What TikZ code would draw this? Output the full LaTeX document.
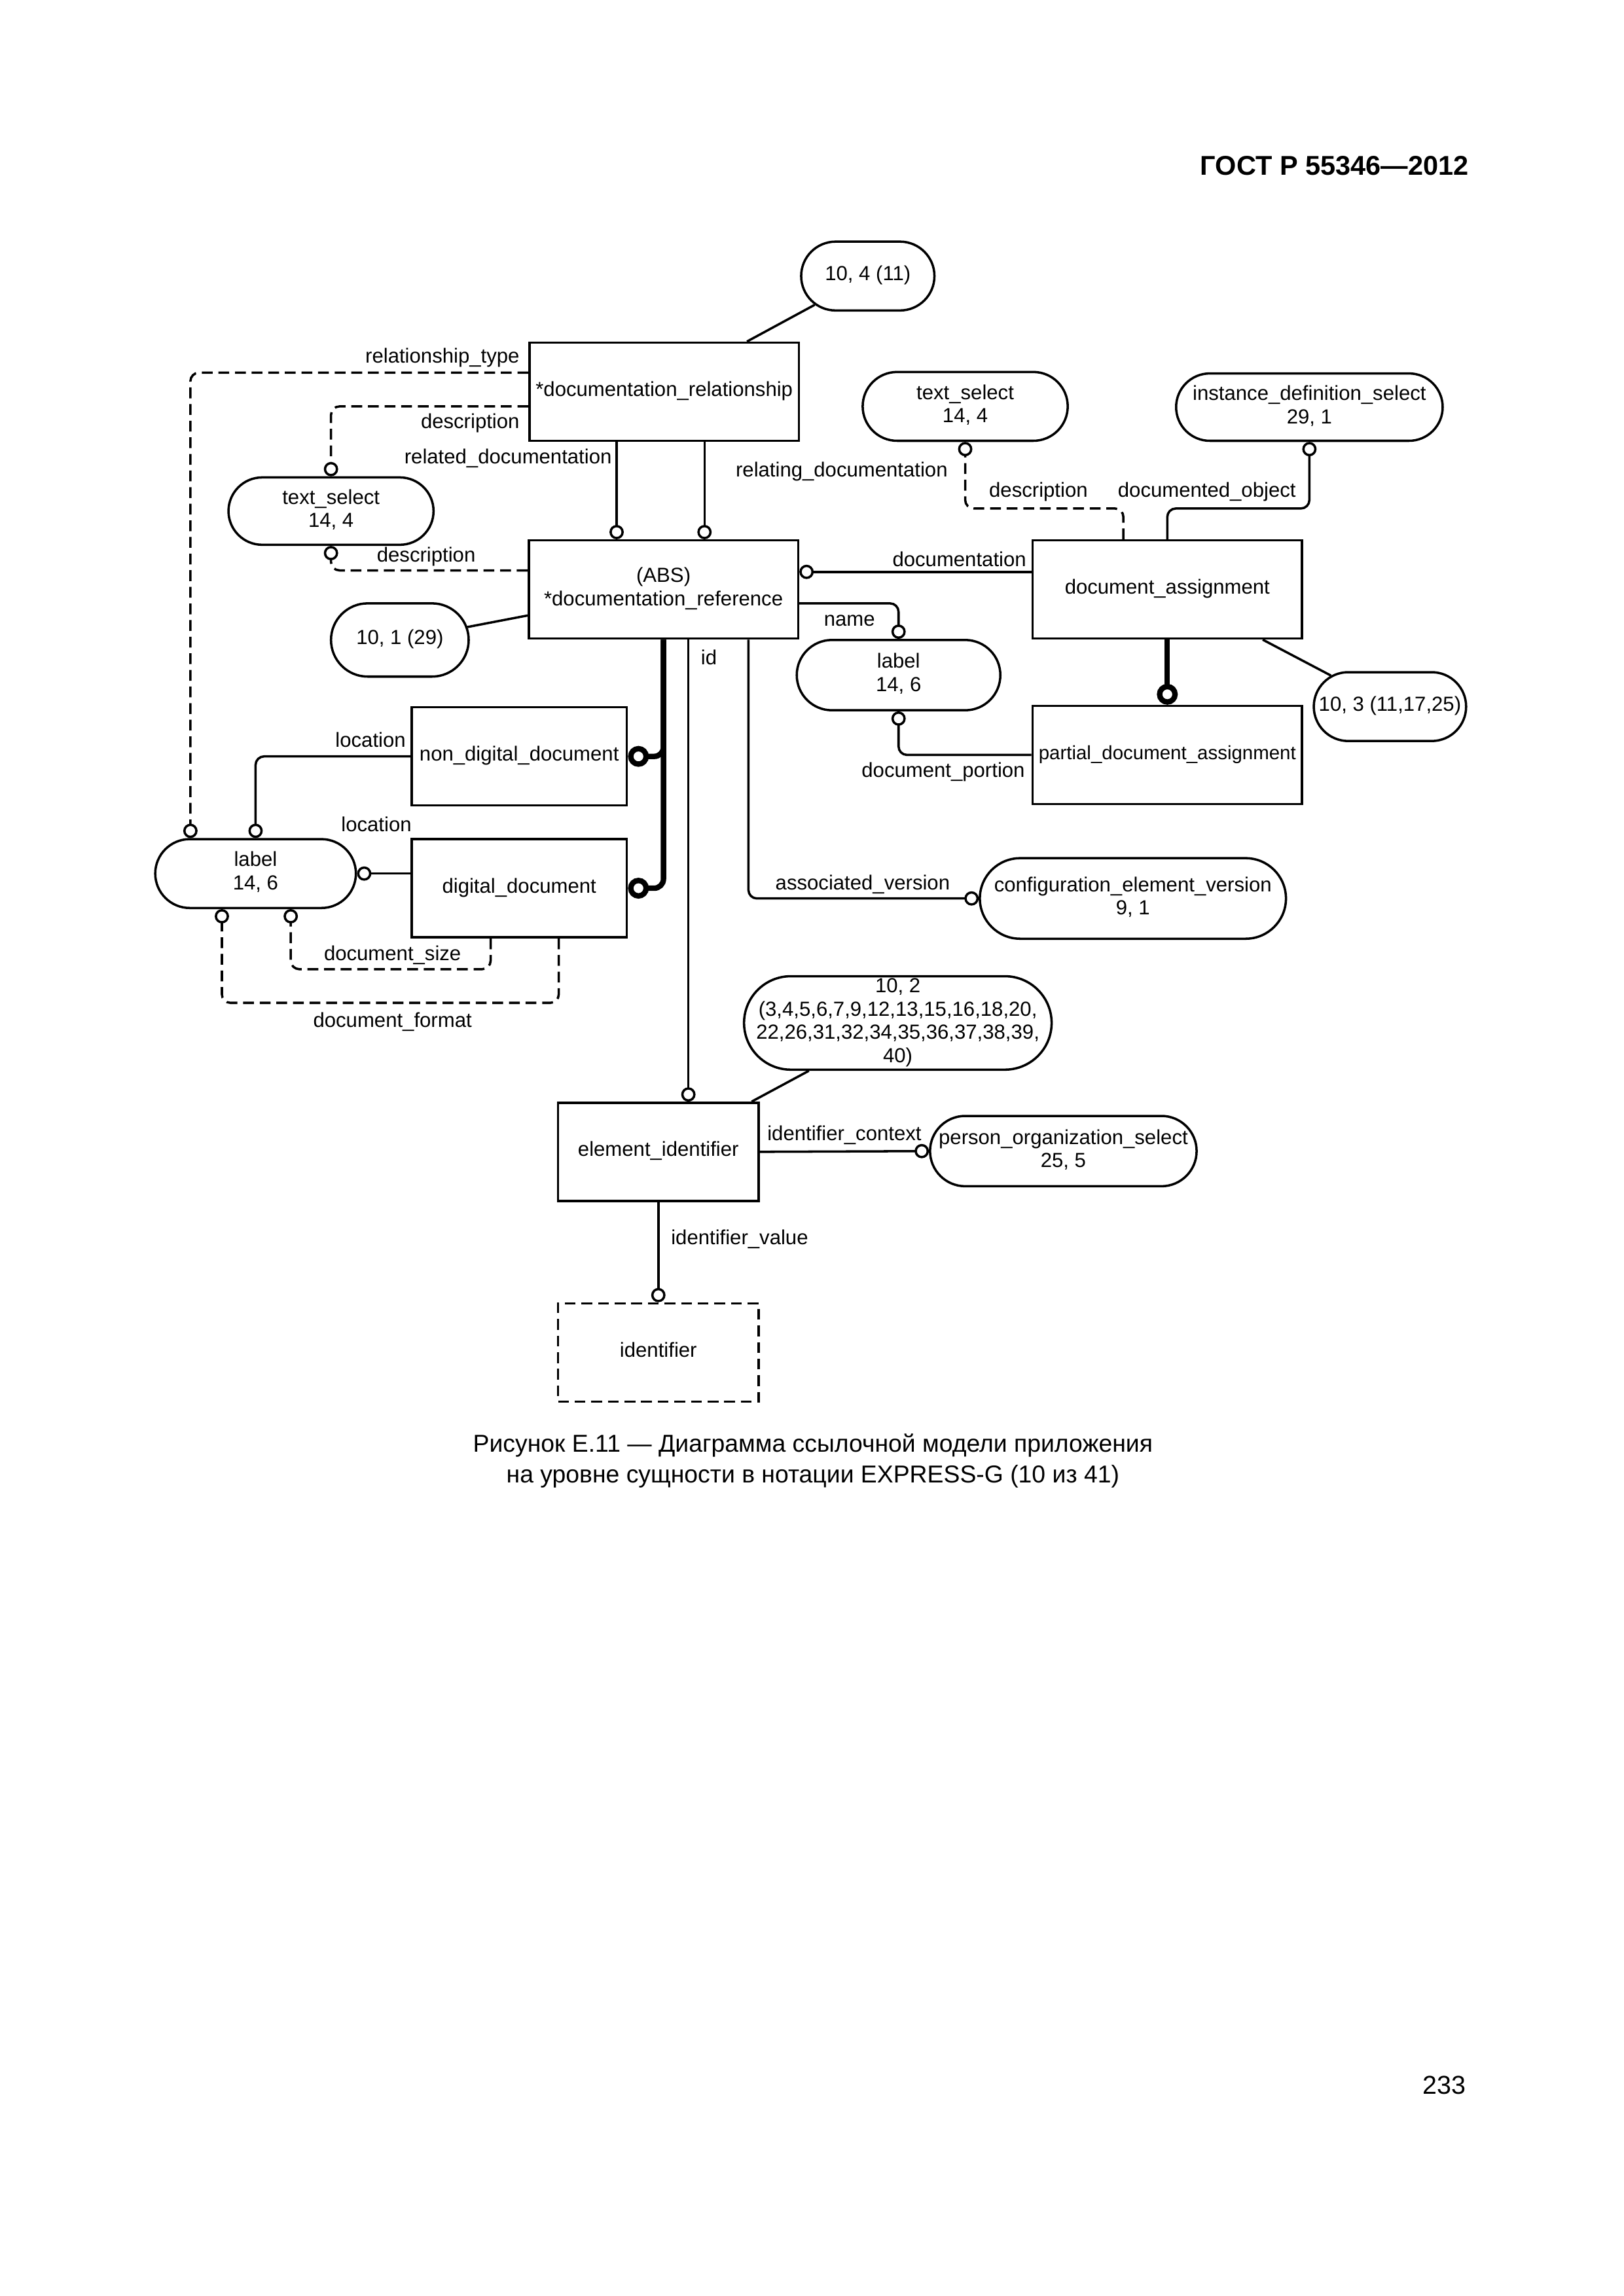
\documentclass[tikz,border=0pt]{standalone}
\usepackage{fontspec}
\setmainfont{Liberation Sans}
\usetikzlibrary{shapes.misc,arrows.meta}
\def\U{0.018944cm}
\newcommand\lbfont{\fontsize{7.5}{8.6}\selectfont}
\newcommand\zb[1]{\makebox[0pt]{\begin{tabular}{@{}c@{}}#1\end{tabular}}}
\tikzset{
  ent/.style={draw, rectangle, line width=0.85pt, inner sep=0pt, font=\lbfont},
  stad/.style={draw, rounded rectangle, line width=0.85pt, inner sep=0pt, font=\lbfont},
  conn/.style={line width=0.85pt, rounded corners=1.1mm},
  dsh/.style={dash pattern=on 1.4mm off 0.75mm},
  circ/.style={-{Circle[open,length=1.85mm,width=1.85mm]}},
  subt/.style={line width=2pt, rounded corners=1.2mm, -{Circle[open,length=2.7mm,width=2.7mm]}},
  lbl/.style={inner sep=0pt, font=\lbfont},
}
\begin{document}
\begin{tikzpicture}[x=0.018944cm, y=-0.018944cm]
\useasboundingbox (0,0) rectangle (1108.5,1567.8);

% header, page number, caption
\node[inner sep=0pt, anchor=east, font=\fontsize{10}{12}\selectfont\bfseries] (hdr) at (1003,113) {ГОСТ Р 55346—2012};
\node[inner sep=0pt, anchor=east, font=\fontsize{9.5}{11}\selectfont] (pg) at (1001,1424) {233};
\node[inner sep=0pt, align=center, font=\fontsize{9}{11.4}\selectfont] (cap) at (555,997.5) {Рисунок Е.11 — Диаграмма ссылочной модели приложения\\на уровне сущности в нотации EXPRESS-G (10 из 41)};

% nodes
\node[stad, minimum width=91*\U, minimum height=47*\U] (n104) at (592.5,188.5) {\zb{10, 4 (11)}};
\node[ent, minimum width=184*\U, minimum height=67*\U] (docrel) at (453.5,267.5) {\zb{*documentation\_relationship}};
\node[stad, minimum width=140*\U, minimum height=46*\U] (tsL) at (226,349) {\zb{text\_select\\14, 4}};
\node[ent, minimum width=184*\U, minimum height=67*\U] (docref) at (453,402.5) {\zb{(ABS)\\\mbox{*}documentation\_reference}};
\node[stad, minimum width=94*\U, minimum height=50*\U] (n101) at (273,437) {\zb{10, 1 (29)}};
\node[stad, minimum width=140*\U, minimum height=47*\U] (tsR) at (659,277.5) {\zb{text\_select\\14, 4}};
\node[stad, minimum width=182*\U, minimum height=46*\U] (ids) at (894,278) {\zb{instance\_definition\_select\\29, 1}};
\node[ent, minimum width=184*\U, minimum height=67*\U] (docasg) at (797,402.5) {\zb{document\_assignment}};
\node[stad, minimum width=139*\U, minimum height=48*\U] (labM) at (613.5,461) {\zb{label\\14, 6}};
\node[stad, minimum width=104*\U, minimum height=47*\U] (n103) at (949,482.5) {\zb{10, 3 (11,17,25)}};
\node[ent, minimum width=184*\U, minimum height=67*\U] (pda) at (797,515.5) {\zb{\fontsize{7.1}{8.6}\selectfont partial\_document\_assignment}};
\node[ent, minimum width=147*\U, minimum height=67*\U] (ndd) at (354.5,516.5) {\zb{non\_digital\_document}};
\node[ent, minimum width=147*\U, minimum height=67*\U] (dd) at (354.5,606.5) {\zb{digital\_document}};
\node[stad, minimum width=137*\U, minimum height=47*\U] (labL) at (174.5,596.5) {\zb{label\\14, 6}};
\node[stad, minimum width=209*\U, minimum height=55*\U] (cev) at (773.5,613.5) {\zb{configuration\_element\_version\\9, 1}};
\node[stad, minimum width=210*\U, minimum height=61*\U] (n102) at (613,698.5) {\zb{10, 2\\(3,4,5,6,7,9,12,13,15,16,18,20,\\22,26,31,32,34,35,36,37,38,39,\\40)}};
\node[ent, minimum width=137*\U, minimum height=67*\U] (ei) at (449.5,786.5) {\zb{element\_identifier}};
\node[stad, minimum width=182*\U, minimum height=48*\U] (pos) at (726,786) {\zb{person\_organization\_select\\25, 5}};
\node[ent, dsh, minimum width=137*\U, minimum height=67*\U] (ident) at (449.5,923.5) {\zb{identifier}};

% connectors
\draw[conn] (n104) -- ([xshift=56.5*\U]docrel.north);
\draw[conn,dsh,circ] ([yshift=13*\U]docrel.west) -| ([xshift=-44.5*\U]labL.north);
\draw[conn,dsh,circ] ([yshift=-10*\U]docrel.west) -| (tsL.north);
\draw[conn,circ] ([xshift=-32.5*\U]docrel.south) -- ([xshift=-32*\U]docref.north);
\draw[conn,circ] ([xshift=27.5*\U]docrel.south) -- ([xshift=28*\U]docref.north);
\draw[conn,dsh,circ] ([yshift=13*\U]docref.west) -| (tsL.south);
\draw[conn] (n101) -- (docref);
\draw[conn,circ] ([yshift=12*\U]docasg.west) -- ([yshift=12*\U]docref.east);
\draw[conn,circ] ([yshift=-9.5*\U]docref.east) -| (labM.north);
\draw[conn,dsh,circ] ([xshift=-30*\U]docasg.north) -- ++(0,-21) -| (tsR.south);
\draw[conn,circ] (docasg.north) -- ++(0,-21) -| (ids.south);
\draw[subt] (docasg.south) -- (pda.north);
\draw[conn] (docasg) -- (n103);
\draw[conn,circ] (pda.west) -| (labM.south);
\draw[subt] (docref.south) |- (ndd.east);
\draw[subt] (docref.south) |- (dd.east);
\coordinate (cid) at ([xshift=17*\U]docref.south);
\draw[conn,circ] (cid) -- (cid |- ei.north);
\draw[conn,circ] ([xshift=58*\U]docref.south) |- (cev.west);
\draw[conn,circ] (ndd.west) -| (labL.north);
\draw[conn,circ] (dd.west |- labL.east) -- (labL.east);
\draw[conn,dsh,circ] ([xshift=-19.5*\U]dd.south) -- ++(0,21) -| ([xshift=24*\U]labL.south);
\draw[conn,dsh,circ] ([xshift=27*\U]dd.south) -- ++(0,44) -| ([xshift=-23*\U]labL.south);
\draw[conn] (n102) -- (ei);
\draw[conn,circ] (ei.east) -- (pos.west);
\draw[conn,circ] (ei.south) -- (ident.north);

% attribute labels
\node[lbl, anchor=east] (l1) at (355,244) {relationship\_type};
\node[lbl, anchor=east] (l2) at (355,289) {description};
\node[lbl, anchor=east] (l3) at (418,313) {related\_documentation};
\node[lbl, anchor=west] (l4) at (502,322) {relating\_documentation};
\node[lbl] (l5) at (291,380) {description};
\node[lbl, anchor=east] (l6) at (701,382) {documentation};
\node[lbl] (l7) at (580,424) {name};
\node[lbl] (l8) at (709,336) {description};
\node[lbl] (l9) at (824,336) {documented\_object};
\node[lbl] (l10) at (484,449) {id};
\node[lbl] (l11) at (253,505) {location};
\node[lbl] (l12) at (257,563) {location};
\node[lbl] (l13) at (644,527) {document\_portion};
\node[lbl] (l14) at (589,604) {associated\_version};
\node[lbl] (l15) at (268,652) {document\_size};
\node[lbl] (l16) at (268,698) {document\_format};
\node[lbl] (l17) at (576.5,775) {identifier\_context};
\node[lbl] (l18) at (505,846) {identifier\_value};
\end{tikzpicture}
\end{document}
